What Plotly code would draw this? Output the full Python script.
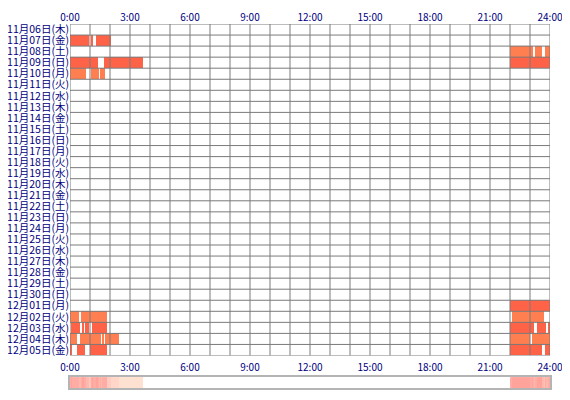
import plotly.graph_objects as go

# one row per day, top to bottom
day_labels = [
    "11月06日(木)", "11月07日(金)", "11月08日(土)", "11月09日(日)", "11月10日(月)",
    "11月11日(火)", "11月12日(水)", "11月13日(木)", "11月14日(金)", "11月15日(土)",
    "11月16日(日)", "11月17日(月)", "11月18日(火)", "11月19日(水)", "11月20日(木)",
    "11月21日(金)", "11月22日(土)", "11月23日(日)", "11月24日(月)", "11月25日(火)",
    "11月26日(水)", "11月27日(木)", "11月28日(金)", "11月29日(土)", "11月30日(日)",
    "12月01日(月)", "12月02日(火)", "12月03日(水)", "12月04日(木)", "12月05日(金)",
]

hour_ticks = [0, 3, 6, 9, 12, 15, 18, 21, 24]
hour_labels = ["0:00", "3:00", "6:00", "9:00", "12:00", "15:00", "18:00", "21:00", "24:00"]

# activity segments: row index, start hour, end hour
seg_row = [1, 1, 1,
           2, 2, 2,
           3, 3, 3,
           4, 4, 4,
           25,
           26, 26, 26,
           27, 27, 27, 27, 27, 27, 27,
           28, 28, 28, 28, 28, 28,
           29, 29, 29, 29, 29]
seg_start = [0.0, 1.07, 1.28,
             22.0, 23.27, 23.75,
             0.0, 1.68, 22.0,
             0.0, 1.03, 1.5,
             22.0,
             0.0, 0.57, 22.08,
             0.07, 0.6, 0.75, 1.12, 22.0, 23.37, 23.88,
             0.0, 0.5, 1.58, 1.77, 22.0, 23.12,
             0.0, 0.37, 1.02, 22.0, 23.77]
seg_end = [0.95, 1.15, 2.03,
           23.15, 23.62, 24.0,
           1.38, 3.67, 24.0,
           0.8, 1.45, 1.75,
           24.0,
           0.43, 1.85, 23.72,
           0.52, 0.68, 0.93, 1.85, 23.22, 23.82, 24.0,
           0.33, 1.53, 1.7, 2.47, 23.02, 24.0,
           0.12, 0.73, 1.85, 23.62, 24.0]

TOMATO = "#FF6347"
CORAL = "#FF7F50"
GRID = "#7A7A7A"
NAVY = "#000080"

colors = [TOMATO if r % 2 == 1 else CORAL for r in seg_row]

fig = go.Figure()

fig.add_trace(go.Bar(
    orientation="h", y=seg_row, base=seg_start,
    x=[e - s for s, e in zip(seg_start, seg_end)],
    width=1, marker=dict(color=colors, line=dict(width=0)),
    showlegend=False, hoverinfo="skip", xaxis="x", yaxis="y",
))

# summary strip: how many days were active in each minute
minutes = list(range(24 * 60))
counts = [0] * len(minutes)
for s, e in zip(seg_start, seg_end):
    for m in minutes:
        t = (m + 0.5) / 60
        if s <= t < e:
            counts[m] += 1

fig.add_trace(go.Heatmap(
    x=[(m + 0.5) / 60 for m in minutes], y=[0], z=[counts],
    zmin=0, zmax=max(counts),
    colorscale=[[0, "#FFFFFF"], [0.14, "#FFE1D1"], [1, "#FFA39B"]],
    showscale=False, hoverinfo="skip", xaxis="x2", yaxis="y2",
))

# grid on top of the bars
for h in range(25):
    fig.add_shape(type="line", xref="x", yref="y", x0=h, x1=h, y0=-0.5, y1=29.5,
                  line=dict(color=GRID, width=1), layer="above")
for r in range(31):
    fig.add_shape(type="line", xref="x", yref="y", x0=0, x1=24, y0=r - 0.5, y1=r - 0.5,
                  line=dict(color=GRID, width=1), layer="above")

tick_font = dict(family="Noto Sans CJK JP", size=10, color=NAVY)

# the page body adds an 8px margin, so the figure is 8px smaller
fig.update_layout(
    width=562, height=392,
    margin=dict(l=62, r=20, t=16, b=12),
    paper_bgcolor="white", plot_bgcolor="white",
    bargap=0,
    xaxis=dict(domain=[0, 1], range=[0, 24], side="top", anchor="y",
               tickvals=hour_ticks, ticktext=hour_labels, tickfont=tick_font,
               showgrid=False, zeroline=False, ticks="", automargin=False),
    yaxis=dict(domain=[0.0893, 1], range=[29.5, -0.5], anchor="x",
               tickvals=list(range(len(day_labels))), ticktext=day_labels,
               tickfont=dict(family="Noto Sans CJK JP", size=10.5, color=NAVY),
               showgrid=False, zeroline=False, ticks="", automargin=False),
    # strip axis carries the lower row of hour labels
    xaxis2=dict(domain=[0, 1], range=[0, 24], anchor="y2", side="top",
                tickvals=hour_ticks, ticktext=hour_labels, tickfont=tick_font,
                showgrid=False, zeroline=False, showline=True, mirror=True, ticks="",
                linecolor="#B4B4B4", linewidth=2, automargin=False),
    yaxis2=dict(domain=[0, 0.03], range=[-0.5, 0.5], anchor="x2", showticklabels=False,
                showgrid=False, zeroline=False, showline=True, mirror=True,
                linecolor="#B4B4B4", linewidth=2, automargin=False),
)

fig.write_html("out.html")
